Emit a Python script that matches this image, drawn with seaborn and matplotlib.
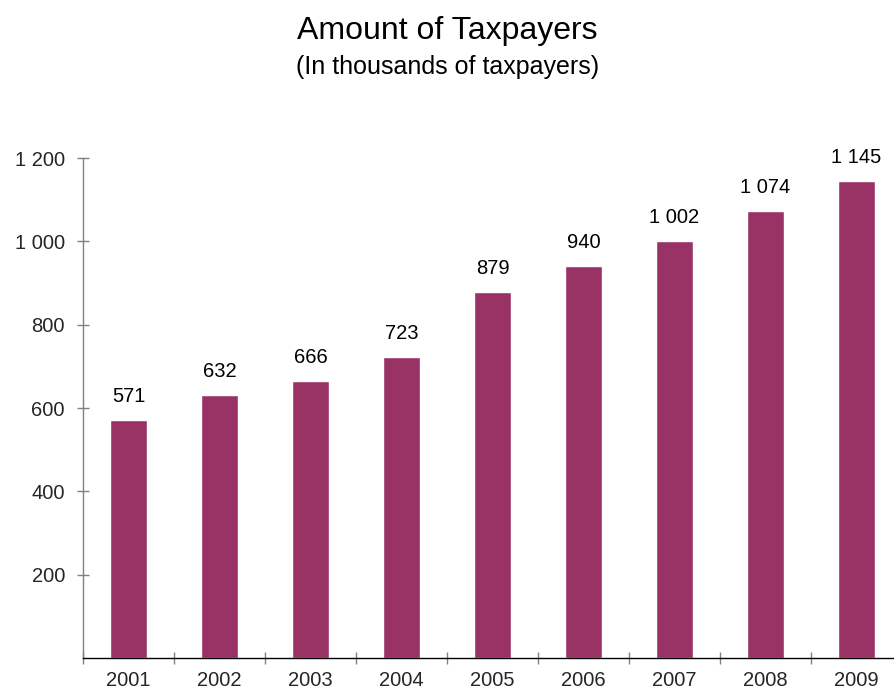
import matplotlib
matplotlib.use("Agg")
import matplotlib.pyplot as plt
import seaborn as sns
import pandas as pd
from matplotlib.ticker import FixedLocator

years = ["2001", "2002", "2003", "2004", "2005", "2006", "2007", "2008", "2009"]
taxpayers = [571, 632, 666, 723, 879, 940, 1002, 1074, 1145]
y_ticks = [200, 400, 600, 800, 1000, 1200]

def fmt(v):
    return f"{v:,}".replace(",", " ")

sns.set_theme(style="white")
plt.rcParams["font.family"] = ["Liberation Sans", "DejaVu Sans"]

df = pd.DataFrame({"year": years, "value": taxpayers})

fig = plt.figure(figsize=(8.95, 6.91), dpi=100)
ax = fig.add_axes([83 / 895, 33 / 691, 819 / 895, 500 / 691])

sns.barplot(data=df, x="year", y="value", color="#993366", saturation=1,
            width=0.41, ax=ax)

ax.set_xlim(-0.5, len(years) - 0.5)
ax.set_ylim(0, 1200)
ax.set_xlabel("")
ax.set_ylabel("")

# value labels above bars
for i, v in enumerate(taxpayers):
    ax.annotate(fmt(v), (i, v), xytext=(0, 10), textcoords="offset points",
                ha="center", va="bottom", fontsize=14.5, color="black")

# y axis
ax.set_yticks(y_ticks)
ax.set_yticklabels([fmt(t) for t in y_ticks])
ax.tick_params(axis="y", direction="inout", length=9, width=1, color="#808080",
               labelsize=14.5, pad=8.5, left=True)

# x axis: labels at centers, tick marks at category boundaries
ax.set_xticks(range(len(years)))
ax.set_xticklabels(years)
ax.tick_params(axis="x", which="major", length=0, labelsize=14.5, pad=9.5)
ax.xaxis.set_minor_locator(FixedLocator([i - 0.5 for i in range(len(years) + 1)]))
ax.tick_params(axis="x", which="minor", direction="inout", length=9, width=1,
               color="#808080", bottom=True)

for s in ["top", "right"]:
    ax.spines[s].set_visible(False)
ax.spines["left"].set_color("#808080")
ax.spines["bottom"].set_color("black")
ax.spines["left"].set_linewidth(1)
ax.spines["bottom"].set_linewidth(1)
ax.grid(False)

fig.text(0.5, 1 - 31 / 691, "Amount of Taxpayers", ha="center", va="center",
         fontsize=23, color="black")
fig.text(0.5, 1 - 67 / 691, "(In thousands of taxpayers)", ha="center",
         va="center", fontsize=18, color="black")

fig.savefig("out.png", dpi=100)
